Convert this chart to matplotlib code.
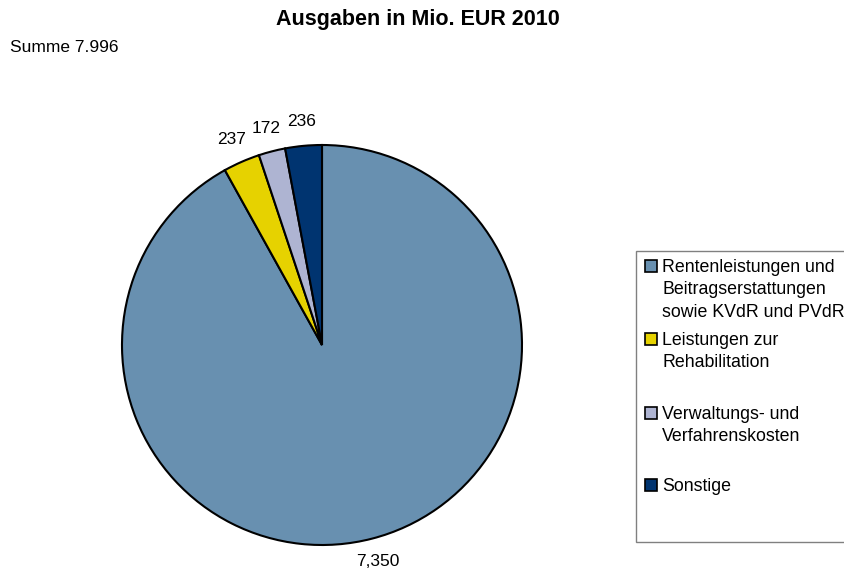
import matplotlib
matplotlib.use("Agg")
import matplotlib.pyplot as plt
from matplotlib.patches import Rectangle

plt.rcParams['font.family'] = ['Liberation Sans', 'DejaVu Sans']

# data
categories = [
    "Rentenleistungen und\nBeitragserstattungen\nsowie KVdR und PVdR",
    "Leistungen zur\nRehabilitation",
    "Verwaltungs- und\nVerfahrenskosten",
    "Sonstige",
]
values = [7350, 237, 172, 236]
colors = ["#6890B0", "#E6D200", "#AEB4D2", "#003470"]
title = "Ausgaben in Mio. EUR 2010"
subtitle = "Summe 7.996"

W, H = 844, 574


def fx(x):
    return x / W


def fy(y):
    return 1 - y / H


fig = plt.figure(figsize=(W / 100, H / 100), dpi=100)

# pie, centre (322, 345), radius 200 px
ax = fig.add_axes([fx(122), fy(545), 400 / W, 400 / H])
wedges, texts = ax.pie(
    values,
    labels=[f"{v:,}" for v in values],
    colors=colors,
    startangle=90,
    counterclock=False,
    labeldistance=1.12,
    wedgeprops=dict(edgecolor="black", linewidth=1.5),
    textprops=dict(fontsize=12.5, color="black"),
)
for t in texts:
    t.set_ha("center")
    t.set_va("center")
ax.set_xlim(-1, 1)
ax.set_ylim(-1, 1)
ax.axis("off")

fig.text(fx(418), fy(20), title, ha="center", va="center",
         fontsize=15.5, fontweight="bold")
fig.text(fx(10), fy(48), subtitle, ha="left", va="center", fontsize=12.5)

# legend box (runs off the right edge)
fig.patches.append(Rectangle((fx(636), fy(542)), (W + 10 - 636) / W, (542 - 251) / H,
                             transform=fig.transFigure, facecolor="white",
                             edgecolor="#808080", linewidth=1.0))

entry_y = [266, 339, 413, 485]
for label, col, y in zip(categories, colors, entry_y):
    fig.patches.append(Rectangle((fx(645), fy(y + 6)), 12 / W, 12 / H,
                                 transform=fig.transFigure, facecolor=col,
                                 edgecolor="black", linewidth=1.2))
    fig.text(fx(662), fy(y - 7), label, ha="left", va="top",
             fontsize=12.8, linespacing=1.42)

fig.savefig("out.png", dpi=100)
